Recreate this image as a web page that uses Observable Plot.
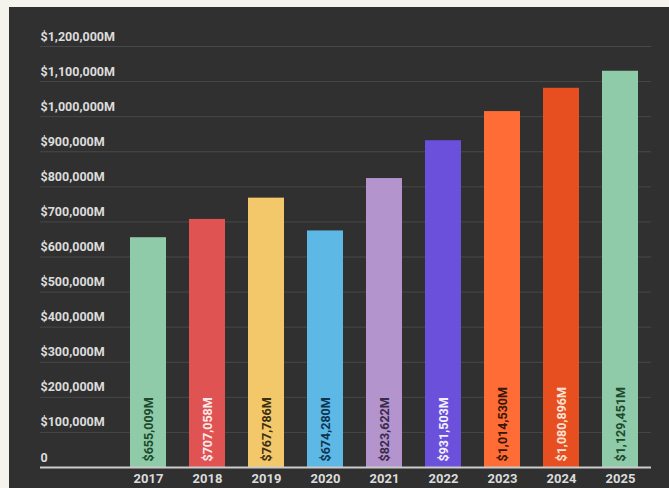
<!DOCTYPE html>
<html>
<head>
<meta charset="utf-8">
<script src="https://cdn.jsdelivr.net/npm/d3@7"></script>
<script src="https://cdn.jsdelivr.net/npm/@observablehq/plot@0.6"></script>
<style>
  html, body { margin: 0; padding: 0; background: #f5f4ec; width: 669px; height: 488px; overflow: hidden; }
  #panel { position: absolute; left: 9px; top: 7px; width: 660px; height: 481px; background: #303030; }
  #panel svg { display: block; font-family: Roboto, "Noto Sans", sans-serif; }
</style>
</head>
<body>
<div id="panel"></div>
<script>
const years = ["2017", "2018", "2019", "2020", "2021", "2022", "2023", "2024", "2025"];
const values = [655009, 707058, 767786, 674280, 823622, 931503, 1014530, 1080896, 1129451]; // $M
const barColors = ["#8fcaa9", "#e05353", "#f2c86b", "#5db8e6", "#b394cd", "#6b50dc", "#ff6c36", "#e84f20", "#8fcaa9"];
const labelColors = ["#1d4a2b", "#fbe9e9", "#3d3012", "#0e3550", "#3a2a4c", "#f4f0ff", "#3a1606", "#fbe2d6", "#1d4a2b"];
const yTicks = [0, 100000, 200000, 300000, 400000, 500000, 600000, 700000, 800000, 900000, 1000000, 1100000, 1200000];

const data = years.map((y, i) => ({year: y, value: values[i], color: barColors[i], labelColor: labelColors[i]}));
const fmt = v => v === 0 ? "0" : "$" + d3.format(",")(v) + "M";

const chart = Plot.plot({
  width: 660,
  height: 481,
  marginLeft: 31,
  marginRight: 18,
  marginTop: 39,
  marginBottom: 21,
  style: {background: "transparent", color: "#dddddd"},
  x: {domain: years, range: [98, 652.6], padding: 0.39, label: null, axis: null},
  y: {domain: [0, 1200000], axis: null},
  marks: [
    Plot.ruleY(yTicks.filter(d => d > 0), {stroke: "#484848", strokeWidth: 1}),
    Plot.text(yTicks, {y: d => d, text: fmt, frameAnchor: "left", textAnchor: "start", dy: -10, fill: "#dcdcdc", fontSize: 12.5, fontWeight: "bold"}),
    Plot.barY(data, {x: "year", y: "value", fill: "color"}),
    Plot.text(data, {x: "year", y: 0, text: d => fmt(d.value), rotate: -90, textAnchor: "start", lineAnchor: "middle", dy: -6, fill: "labelColor", fontSize: 12.5, fontWeight: "bold"}),
    Plot.ruleY([0], {stroke: "#cccccc", strokeWidth: 2}),
    Plot.text(years, {x: d => d, frameAnchor: "bottom", dy: 11, text: d => d, fill: "#dcdcdc", fontSize: 13, fontWeight: "bold", lineAnchor: "middle"})
  ]
});
document.getElementById("panel").appendChild(chart);
</script>
</body>
</html>
